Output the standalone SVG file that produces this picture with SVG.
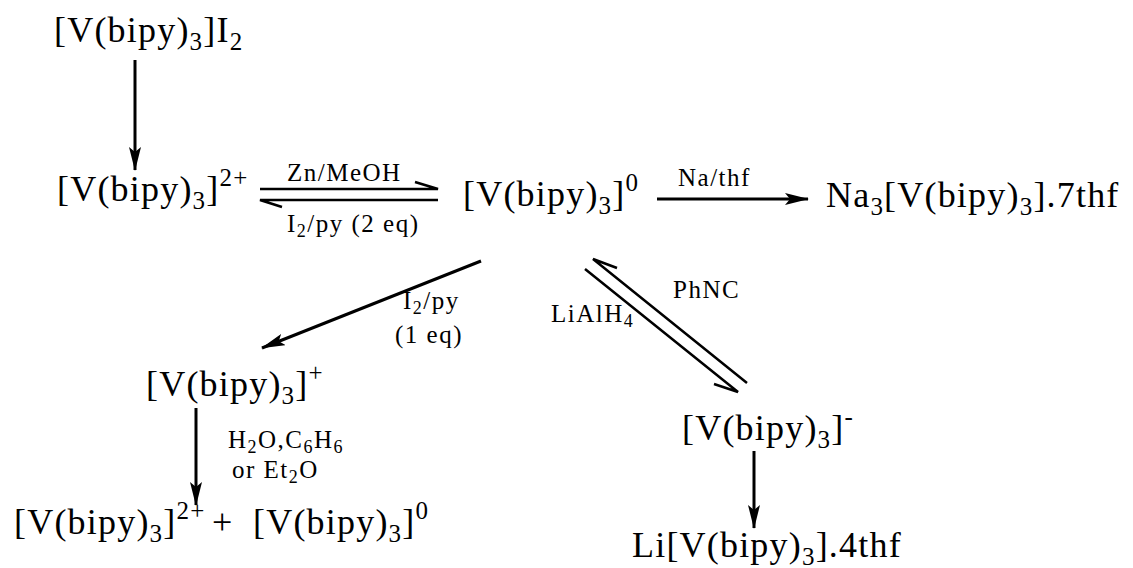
<svg xmlns="http://www.w3.org/2000/svg" width="1133" height="568" viewBox="0 0 1133 568">
<style>
.m{font-family:"Liberation Serif","Times New Roman",serif;font-size:36px;letter-spacing:1.2px;fill:#000}
.l{font-family:"Liberation Serif","Times New Roman",serif;font-size:25px;letter-spacing:1.5px;fill:#000}
.s{font-size:25px}
.ls{font-size:18px}
.ln{stroke:#000;stroke-width:3;fill:none}
.thin{stroke:#000;stroke-width:2.5;fill:none}
</style>
<defs>
<marker id="ah" viewBox="0 0 24 12" refX="23" refY="6" markerWidth="24" markerHeight="12" markerUnits="userSpaceOnUse" orient="auto">
<path d="M0,0 L24,6 L0,12 L5,6 Z" fill="#000"/>
</marker>
</defs>
<g id="connectors">
<line class="ln" x1="135" y1="60" x2="135" y2="170" marker-end="url(#ah)"/>
<path class="thin" d="M260,189 H438 L415,182"/>
<path class="thin" d="M438,200 H260 L282,207"/>
<line class="ln" x1="657" y1="199" x2="808" y2="199" marker-end="url(#ah)"/>
<line class="ln" x1="481" y1="261" x2="262" y2="348" marker-end="url(#ah)"/>
<path class="thin" d="M617,268 L593,259 L747,383"/>
<path class="thin" d="M585,269 L738,392 L714,384"/>
<line class="ln" x1="196" y1="408" x2="196" y2="505" marker-end="url(#ah)"/>
<line class="ln" x1="754" y1="451" x2="754" y2="528" marker-end="url(#ah)"/>
</g>
<g id="n1"><text class="m" x="54" y="42">[V(bipy)<tspan class="s" dy="8">3</tspan><tspan dy="-8">]I</tspan><tspan class="s" dy="8">2</tspan></text></g>
<g id="n2"><text class="m" x="57" y="201">[V(bipy)<tspan class="s" dy="8">3</tspan><tspan dy="-8">]</tspan><tspan class="s" dy="-15">2+</tspan></text></g>
<g id="lab-zn"><text class="l" x="287" y="181">Zn/MeOH</text></g>
<g id="lab-i2a"><text class="l" x="287" y="232">I<tspan class="ls" dy="5">2</tspan><tspan dy="-5">/py (2  eq)</tspan></text></g>
<g id="n3"><text class="m" x="463" y="206">[V(bipy)<tspan class="s" dy="8">3</tspan><tspan dy="-8">]</tspan><tspan class="s" dy="-15">0</tspan></text></g>
<g id="lab-na"><text class="l" x="678" y="186">Na/thf</text></g>
<g id="n4"><text class="m" x="826" y="207">Na<tspan class="s" dy="8">3</tspan><tspan dy="-8">[V(bipy)</tspan><tspan class="s" dy="8">3</tspan><tspan dy="-8">].7thf</tspan></text></g>
<g id="lab-i2b"><text class="l" x="403" y="309">I<tspan class="ls" dy="5">2</tspan><tspan dy="-5">/py</tspan></text><text class="l" x="395" y="343">(1  eq)</text></g>
<g id="n5"><text class="m" x="146" y="396">[V(bipy)<tspan class="s" dy="8">3</tspan><tspan dy="-8">]</tspan><tspan class="s" dy="-15">+</tspan></text></g>
<g id="lab-h2o"><text class="l" x="228" y="448">H<tspan class="ls" dy="5">2</tspan><tspan dy="-5">O,C</tspan><tspan class="ls" dy="5">6</tspan><tspan dy="-5">H</tspan><tspan class="ls" dy="5">6</tspan></text><text class="l" x="232" y="478">or  Et<tspan class="ls" dy="5">2</tspan><tspan dy="-5">O</tspan></text></g>
<g id="n6"><text class="m" x="14" y="534">[V(bipy)<tspan class="s" dy="8">3</tspan><tspan dy="-8">]</tspan><tspan class="s" dy="-15">2+</tspan><tspan x="212" dy="15">+</tspan><tspan x="253">[V(bipy)</tspan><tspan class="s" dy="8">3</tspan><tspan dy="-8">]</tspan><tspan class="s" dy="-15">0</tspan></text></g>
<g id="lab-phnc"><text class="l" x="673" y="298">PhNC</text></g>
<g id="lab-lialh"><text class="l" x="551" y="322">LiAlH<tspan class="ls" dy="5">4</tspan></text></g>
<g id="n7"><text class="m" x="682" y="440">[V(bipy)<tspan class="s" dy="8">3</tspan><tspan dy="-8">]</tspan><tspan class="s" dy="-15">-</tspan></text></g>
<g id="n8"><text class="m" x="632" y="557">Li[V(bipy)<tspan class="s" dy="8">3</tspan><tspan dy="-8">].4thf</tspan></text></g>
</svg>
